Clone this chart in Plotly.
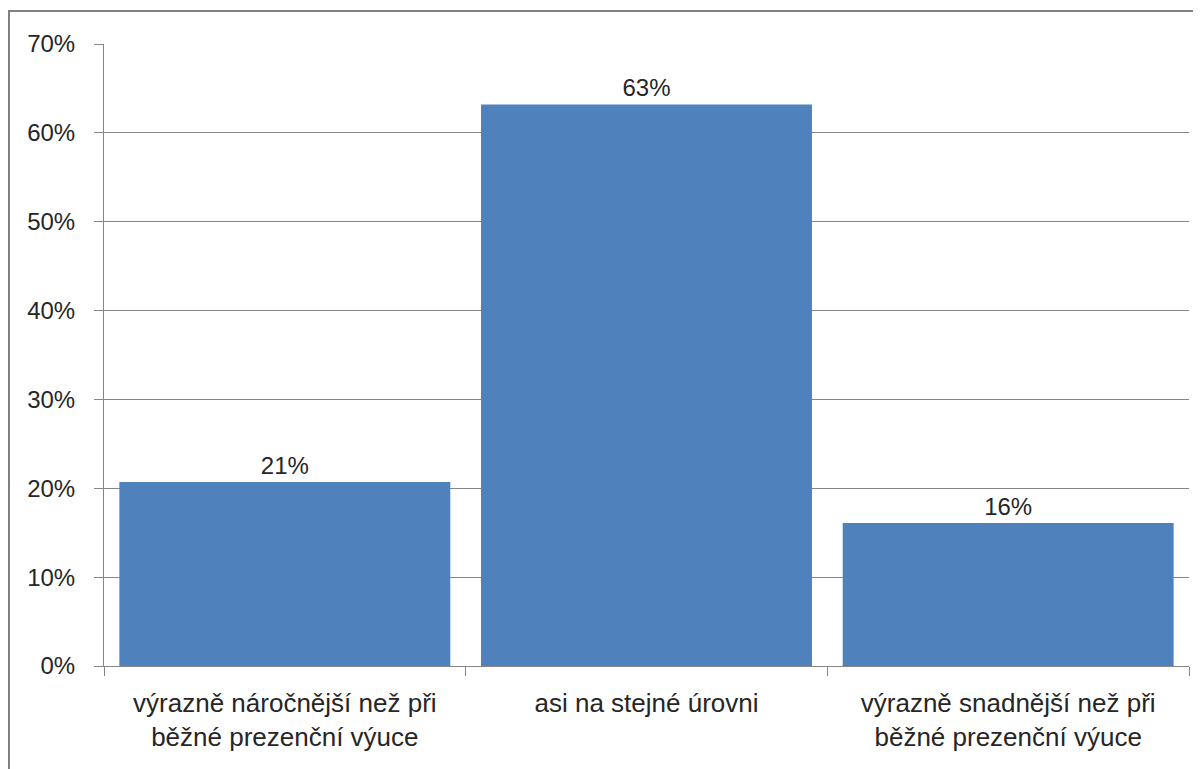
import plotly.graph_objects as go

categories = ["výrazně náročnější než při<br>běžné prezenční výuce",
              "asi na stejné úrovni",
              "výrazně snadnější než při<br>běžné prezenční výuce"]
values = [0.207, 0.632, 0.161]
y_ticks = [0, 0.1, 0.2, 0.3, 0.4, 0.5, 0.6, 0.7]

# page body has an 8px margin, so the figure is sized to fit the window
W, H = 1193, 761
ml, mr, mt, mb = 96, 12, 36, 103
pw, ph = W - ml - mr, H - mt - mb

fig = go.Figure(go.Bar(
    x=categories, y=values,
    marker=dict(color="#4F81BD", line=dict(width=0)),
    texttemplate="%{y:.0%}", textposition="outside",
    textfont=dict(size=24, color="#262626", family="Liberation Sans"),
    cliponaxis=False,
))

fig.update_layout(
    width=W, height=H,
    margin=dict(l=ml, r=mr, t=mt, b=mb),
    paper_bgcolor="white", plot_bgcolor="white",
    bargap=0.085,
    showlegend=False,
    font=dict(family="Liberation Sans", size=24, color="#262626"),
    xaxis=dict(
        showline=True, linecolor="#868686", linewidth=1,
        ticks="outside", tickson="boundaries", ticklen=9, tickcolor="#868686",
        showgrid=False, tickfont=dict(size=26), ticklabelstandoff=14,
    ),
    yaxis=dict(
        range=[0, 0.7], tickvals=y_ticks, tickformat=".0%",
        showline=True, linecolor="#868686", linewidth=1,
        ticks="outside", ticklen=9, tickcolor="#868686",
        showgrid=True, gridcolor="#868686", gridwidth=1,
        zeroline=False, tickfont=dict(size=24), ticklabelstandoff=14,
    ),
    shapes=[
        dict(type="line", xref="paper", yref="paper",
             x0=(1 - ml) / pw, x1=(1 - ml) / pw,
             y0=1 + (mt - 3) / ph, y1=-(mb + 5) / ph,
             line=dict(color="#808080", width=2)),
        dict(type="line", xref="paper", yref="paper",
             x0=(0 - ml) / pw, x1=(W + 5 - ml) / pw,
             y0=1 + (mt - 3) / ph, y1=1 + (mt - 3) / ph,
             line=dict(color="#808080", width=2)),
    ],
)

fig.write_html("out.html")
